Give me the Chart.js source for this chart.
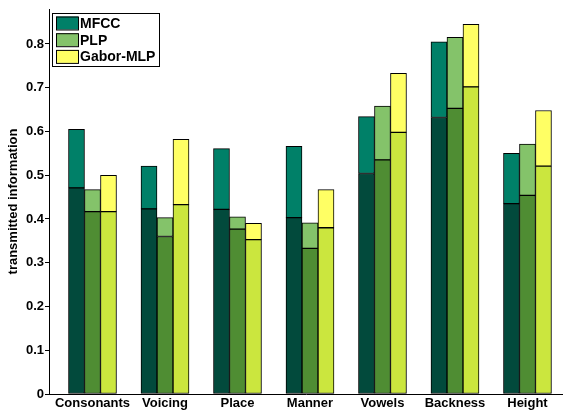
<!DOCTYPE html>
<html>
<head>
<meta charset="utf-8">
<script src="https://cdn.jsdelivr.net/npm/chart.js@4/dist/chart.umd.min.js"></script>
<style>
  html, body { margin: 0; padding: 0; background: #fff; overflow: hidden; }
  #wrap { position: relative; width: 563px; height: 412px; }
</style>
</head>
<body>
<div id="wrap"><canvas id="c"></canvas></div>
<script>
// Phonetic feature categories
const categories = ['Consonants', 'Voicing', 'Place', 'Manner', 'Vowels', 'Backness', 'Height'];
const seriesNames = ['MFCC', 'PLP', 'Gabor-MLP'];

// Lower (dark) part of each bar
const mfccLow  = [0.471, 0.423, 0.422, 0.403, 0.504, 0.632, 0.435];
const plpLow   = [0.417, 0.360, 0.377, 0.333, 0.535, 0.653, 0.454];
const gaborLow = [0.417, 0.433, 0.353, 0.380, 0.598, 0.702, 0.521];

// Full height (light top) of each bar
const mfccTop  = [0.605, 0.521, 0.561, 0.566, 0.634, 0.805, 0.550];
const plpTop   = [0.467, 0.403, 0.405, 0.391, 0.658, 0.815, 0.571];
const gaborTop = [0.500, 0.582, 0.390, 0.467, 0.733, 0.845, 0.648];

const yTicks = [0, 0.1, 0.2, 0.3, 0.4, 0.5, 0.6, 0.7, 0.8];

const lowColors = ['#024a3c', '#4f8d33', '#cbe63e'];
const topColors = ['#008068', '#84c36a', '#ffff64'];

const lows = [mfccLow, plpLow, gaborLow];
const tops = [mfccTop, plpTop, gaborTop];

const datasets = [];
seriesNames.forEach((name, s) => {
  datasets.push({
    label: name + ' (base)',
    stack: name,
    data: lows[s].map((v, i) => ({ x: i + 1, y: v })),
    backgroundColor: lowColors[s],
    inLegend: false
  });
  datasets.push({
    label: name,
    stack: name,
    data: tops[s].map((v, i) => ({ x: i + 1, y: +(v - lows[s][i]).toFixed(4) })),
    backgroundColor: topColors[s],
    swatch: topColors[s],
    inLegend: true
  });
});
datasets.forEach(d => {
  d.borderColor = '#000';
  d.borderWidth = 1;
  d.borderSkipped = false;
  d.barThickness = 16;
});

// Legend box drawn inside the plot area, upper left
const insetLegend = {
  id: 'insetLegend',
  afterDraw(chart) {
    const ctx = chart.ctx;
    const a = chart.chartArea;
    const x0 = a.left + 3, y0 = a.top + 4;
    const w = 107, rowH = 16.7, h = 53;
    ctx.save();
    ctx.fillStyle = '#fff';
    ctx.fillRect(x0, y0, w, h);
    ctx.strokeStyle = '#000';
    ctx.lineWidth = 1;
    ctx.strokeRect(x0 + 0.5, y0 + 0.5, w, h);
    ctx.font = 'bold 14px "Liberation Sans", Arial, sans-serif';
    ctx.textBaseline = 'middle';
    const items = chart.data.datasets.filter(d => d.inLegend);
    items.forEach((d, k) => {
      const sy = y0 + 3.5 + k * rowH;
      ctx.fillStyle = d.swatch;
      ctx.fillRect(x0 + 4, sy, 22, 13);
      ctx.strokeRect(x0 + 4.5, sy + 0.5, 22, 13);
      ctx.fillStyle = '#000';
      ctx.fillText(d.label, x0 + 28, sy + 7.5);
    });
    ctx.restore();
  }
};

new Chart(document.getElementById('c'), {
  type: 'bar',
  data: { datasets },
  options: {
    responsive: true,
    maintainAspectRatio: false,
    animation: false,
    layout: { padding: { top: 9, right: 0, bottom: 0, left: 0 } },
    plugins: { legend: { display: false }, tooltip: { enabled: false } },
    scales: {
      x: {
        type: 'linear',
        offset: false,
        min: 0.4,
        max: 7.49,
        afterBuildTicks(scale) {
          scale.ticks = categories.map((c, i) => ({ value: i + 1 }));
        },
        afterFit(scale) { scale.height = 18; },
        grid: { display: false, drawTicks: false, offset: false },
        border: { display: true, color: '#000', width: 1 },
        ticks: {
          autoSkip: false,
          maxRotation: 0,
          padding: 3,
          color: '#000',
          font: { family: '"Liberation Sans", Arial, sans-serif', size: 13, weight: 'bold', lineHeight: 1 },
          callback: (v) => categories[Math.round(v) - 1]
        }
      },
      y: {
        stacked: true,
        min: 0,
        max: 0.88,
        afterBuildTicks(scale) {
          scale.ticks = yTicks.map(v => ({ value: v }));
        },
        afterFit(scale) { scale.width = 49; },
        grid: { drawOnChartArea: false, drawTicks: true, tickLength: 4, color: '#000' },
        border: { display: true, color: '#000', width: 1 },
        ticks: {
          padding: 1,
          color: '#000',
          font: { family: '"Liberation Sans", Arial, sans-serif', size: 13, weight: 'bold' },
          callback: (v) => (v === 0 ? '0' : v.toFixed(1))
        },
        title: {
          display: true,
          text: 'transmitted information',
          color: '#000',
          padding: { top: 6, bottom: 0 },
          font: { family: '"Liberation Sans", Arial, sans-serif', size: 13, weight: 'bold' }
        }
      }
    }
  },
  plugins: [insetLegend]
});
</script>
</body>
</html>
